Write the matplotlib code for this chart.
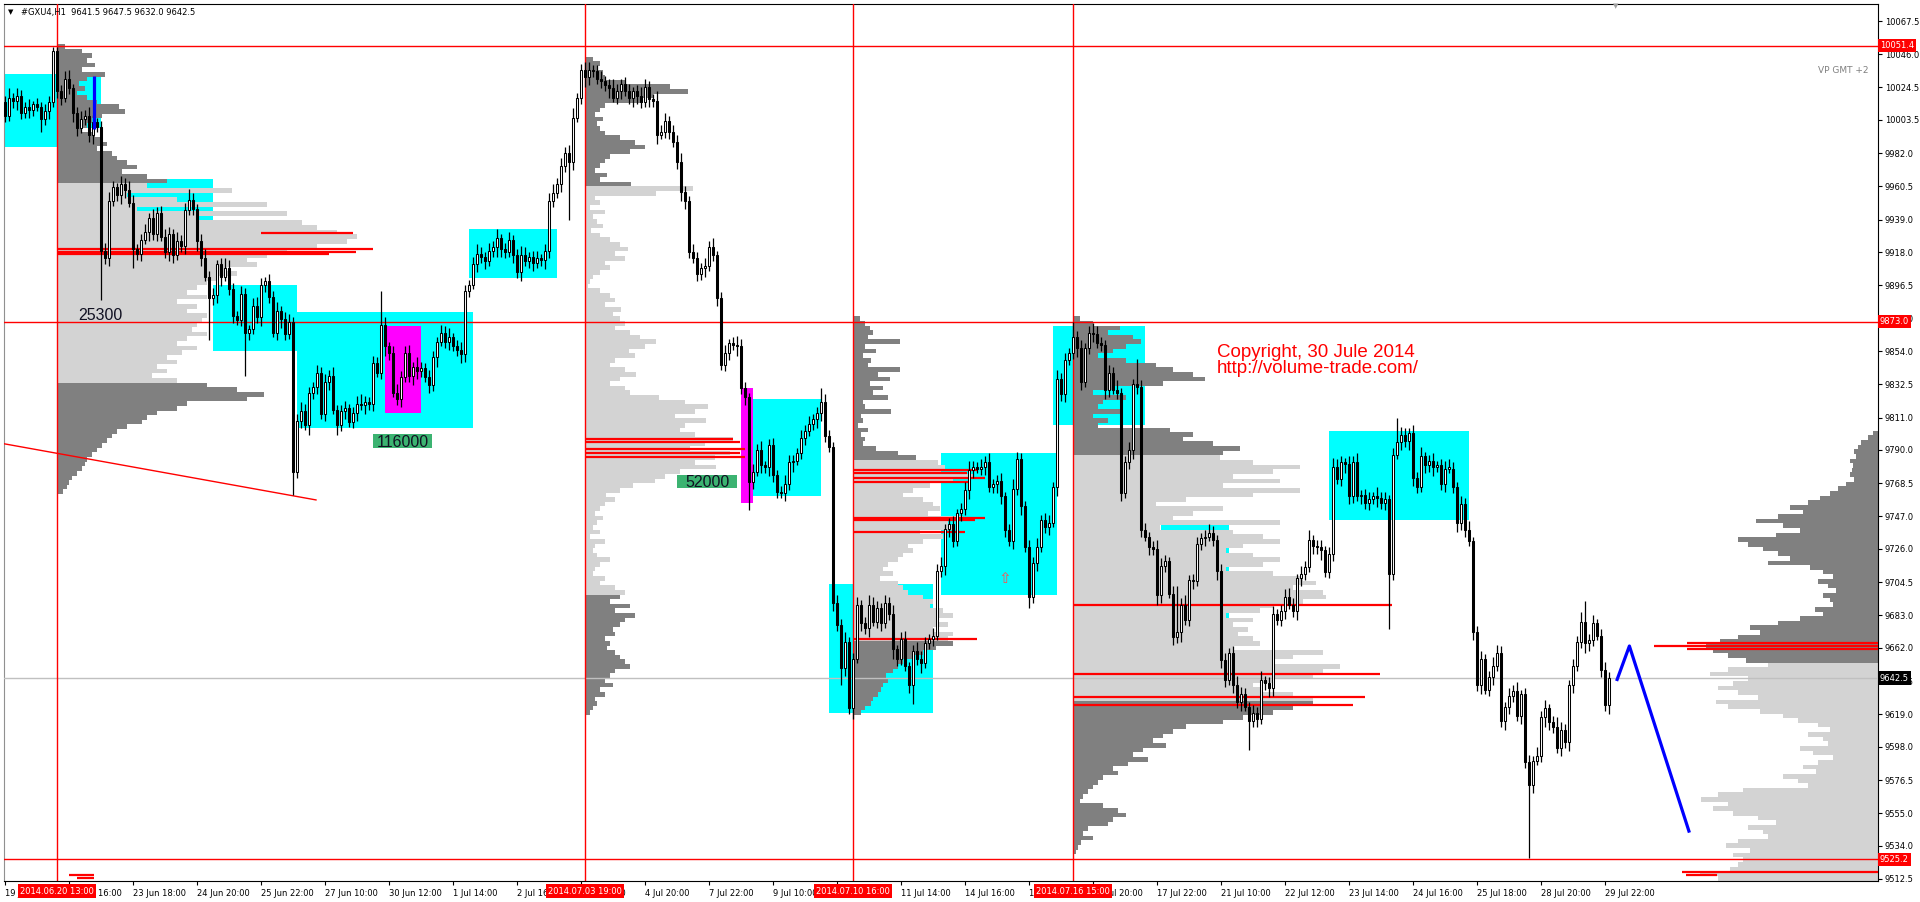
import numpy as np
import matplotlib.pyplot as plt
from matplotlib.patches import Rectangle
from matplotlib.transforms import blended_transform_factory

plt.rcParams['font.family'] = ['DejaVu Sans']

# ---------------- price bars (#GXU4, H1) ----------------
# open of each bar = close of the previous bar
first_open = 10015.0
closes = [
    10006, 10018, 10016, 10019, 10008, 10012, 10010, 10014, 10012, 10004, 10009, 10015, 10048, 10022, 10018, 10030, 10024, 10008, 9998, 10004,
    10006, 9994, 10002, 9999, 9919, 9914, 9951, 9960, 9955, 9962, 9958, 9950, 9920, 9917, 9926, 9931, 9940, 9930, 9943, 9928,
    9918, 9930, 9916, 9925, 9922, 9945, 9952, 9946, 9925, 9914, 9902, 9888, 9890, 9910, 9902, 9908, 9894, 9877, 9874, 9891,
    9866, 9868, 9883, 9876, 9897, 9899, 9889, 9866, 9880, 9875, 9865, 9873, 9776, 9809, 9815, 9806, 9827, 9831, 9840, 9813,
    9834, 9838, 9816, 9806, 9815, 9817, 9808, 9814, 9820, 9819, 9821, 9820, 9846, 9840, 9871, 9857, 9853, 9827, 9823, 9837,
    9853, 9838, 9844, 9841, 9843, 9837, 9832, 9850, 9860, 9866, 9860, 9863, 9857, 9855, 9852, 9893, 9897, 9910, 9917, 9915,
    9912, 9919, 9921, 9927, 9920, 9918, 9926, 9916, 9905, 9916, 9912, 9915, 9911, 9914, 9913, 9919, 9951, 9956, 9962, 9974,
    9982, 9976, 10005, 10018, 10036, 10031, 10036, 10035, 10030, 10029, 10026, 10024, 10018, 10022, 10027, 10022, 10018, 10022, 10019, 10015,
    10025, 10017, 10016, 9994, 9996, 10003, 9996, 9989, 9976, 9957, 9951, 9918, 9914, 9904, 9908, 9909, 9921, 9916, 9888, 9845,
    9853, 9859, 9858, 9857, 9830, 9824, 9769, 9776, 9790, 9780, 9779, 9793, 9774, 9763, 9762, 9768, 9782, 9783, 9788, 9798,
    9802, 9807, 9810, 9814, 9821, 9799, 9792, 9691, 9677, 9649, 9666, 9623, 9655, 9690, 9678, 9675, 9690, 9679, 9688, 9678,
    9691, 9684, 9661, 9655, 9668, 9650, 9638, 9660, 9655, 9652, 9665, 9668, 9670, 9712, 9715, 9739, 9742, 9731, 9749, 9752,
    9764, 9777, 9779, 9778, 9779, 9782, 9766, 9768, 9770, 9760, 9738, 9731, 9765, 9784, 9754, 9727, 9695, 9717, 9727, 9745,
    9740, 9743, 9766, 9836, 9826, 9848, 9853, 9863, 9856, 9834, 9856, 9866, 9865, 9859, 9858, 9829, 9840, 9829, 9827, 9762,
    9782, 9790, 9833, 9831, 9738, 9734, 9727, 9726, 9696, 9715, 9718, 9697, 9669, 9672, 9690, 9680, 9706, 9705, 9729, 9733,
    9734, 9736, 9732, 9712, 9654, 9641, 9659, 9638, 9627, 9632, 9624, 9615, 9620, 9616, 9641, 9639, 9636, 9684, 9680, 9686,
    9695, 9690, 9686, 9707, 9710, 9714, 9732, 9728, 9727, 9725, 9711, 9723, 9779, 9771, 9782, 9781, 9760, 9782, 9760, 9761,
    9756, 9758, 9760, 9759, 9756, 9758, 9710, 9787, 9795, 9800, 9796, 9801, 9772, 9766, 9786, 9780, 9783, 9779, 9780, 9768,
    9778, 9778, 9766, 9743, 9755, 9738, 9731, 9672, 9638, 9655, 9635, 9643, 9650, 9659, 9615, 9624, 9631, 9634, 9618, 9632,
    9588, 9573, 9589, 9592, 9617, 9623, 9614, 9611, 9597, 9609, 9601, 9638, 9650, 9666, 9679, 9665, 9667, 9678, 9670, 9648,
    9625, 9642.5,
]
# upper / lower shadow length in points
up_wick = [
    4, 6, 3, 5, 4, 3, 5, 2, 4, 3, 5, 4, 3, 3, 4, 5, 6, 3, 4, 5,
    4, 6, 5, 3, 4, 5, 6, 4, 3, 5, 4, 6, 5, 3, 4, 5, 3, 6, 4, 5,
    5, 4, 3, 6, 4, 5, 7, 4, 3, 5, 6, 4, 5, 3, 4, 6, 5, 4, 3, 5,
    4, 3, 5, 6, 4, 3, 5, 4, 6, 3, 4, 5, 3, 4, 6, 5, 4, 3, 5, 4,
    5, 4, 6, 3, 4, 5, 3, 4, 5, 6, 4, 3, 5, 4, 22, 5, 3, 4, 6, 4,
    4, 5, 3, 6, 4, 3, 5, 4, 3, 5, 4, 6, 3, 4, 5, 4, 3, 5, 6, 4,
    3, 5, 4, 6, 3, 4, 5, 3, 4, 6, 5, 3, 4, 5, 3, 4, 5, 6, 4, 5,
    4, 5, 6, 3, 4, 5, 5, 3, 4, 5, 3, 4, 6, 5, 3, 4, 5, 3, 4, 6,
    5, 4, 3, 6, 4, 5, 3, 4, 5, 6, 4, 3, 5, 4, 3, 5, 4, 6, 3, 4,
    5, 3, 4, 6, 5, 4, 3, 5, 4, 6, 3, 4, 5, 3, 4, 6, 5, 4, 3, 5,
    4, 5, 3, 4, 9, 5, 4, 3, 5, 4, 6, 3, 4, 5, 3, 4, 6, 5, 4, 3,
    5, 4, 6, 3, 4, 5, 3, 4, 6, 5, 4, 3, 5, 4, 6, 3, 4, 5, 3, 4,
    5, 6, 4, 3, 5, 4, 6, 3, 4, 5, 3, 4, 6, 5, 4, 3, 5, 4, 6, 3,
    4, 5, 3, 6, 4, 5, 3, 10, 4, 5, 3, 4, 6, 5, 4, 3, 5, 4, 6, 3,
    4, 5, 3, 16, 4, 5, 3, 4, 6, 5, 4, 3, 5, 30, 4, 6, 3, 4, 5, 3,
    4, 6, 5, 3, 4, 5, 3, 4, 6, 5, 4, 3, 5, 4, 6, 3, 4, 5, 3, 4,
    5, 6, 4, 3, 5, 4, 6, 3, 4, 5, 3, 4, 6, 5, 4, 3, 5, 4, 6, 3,
    4, 5, 3, 6, 4, 5, 3, 4, 16, 5, 4, 3, 5, 4, 6, 3, 4, 5, 3, 4,
    5, 6, 4, 3, 5, 4, 6, 3, 4, 5, 3, 4, 6, 5, 4, 3, 5, 4, 6, 3,
    4, 5, 3, 6, 4, 5, 3, 4, 6, 5, 4, 3, 5, 4, 6, 13, 4, 5, 3, 4,
    5, 4,
]
dn_wick = [
    4, 3, 5, 6, 4, 3, 5, 4, 3, 8, 4, 5, 3, 4, 5, 3, 4, 6, 5, 3,
    4, 5, 6, 3, 32, 4, 5, 3, 4, 6, 5, 3, 12, 4, 5, 3, 6, 4, 5, 3,
    4, 6, 5, 3, 4, 5, 3, 4, 6, 5, 3, 27, 4, 5, 6, 3, 4, 5, 3, 4,
    28, 5, 3, 4, 6, 5, 4, 3, 5, 6, 4, 3, 15, 4, 5, 3, 6, 4, 5, 3,
    4, 5, 3, 6, 4, 5, 3, 4, 5, 3, 6, 4, 5, 3, 4, 6, 5, 3, 4, 5,
    3, 4, 6, 5, 4, 3, 5, 4, 6, 3, 4, 5, 3, 4, 6, 5, 4, 3, 5, 4,
    5, 3, 4, 6, 5, 4, 3, 5, 4, 6, 3, 4, 5, 3, 4, 6, 5, 4, 3, 5,
    4, 37, 5, 3, 4, 6, 5, 4, 3, 5, 4, 6, 3, 4, 5, 3, 4, 6, 5, 4,
    3, 5, 4, 6, 3, 4, 5, 3, 4, 6, 5, 4, 3, 5, 4, 6, 3, 4, 5, 3,
    4, 5, 3, 6, 4, 5, 18, 4, 3, 5, 4, 6, 5, 4, 3, 5, 4, 6, 3, 4,
    5, 3, 4, 6, 5, 4, 3, 5, 4, 11, 5, 4, 7, 3, 5, 4, 6, 3, 4, 5,
    3, 4, 6, 5, 4, 3, 5, 12, 4, 6, 3, 4, 5, 3, 4, 6, 5, 4, 3, 5,
    4, 6, 5, 3, 4, 5, 3, 4, 6, 5, 4, 3, 5, 4, 6, 3, 7, 4, 5, 3,
    4, 5, 3, 6, 4, 5, 3, 4, 6, 5, 3, 4, 5, 3, 4, 6, 5, 3, 4, 5,
    3, 4, 6, 5, 4, 3, 5, 4, 6, 5, 4, 3, 5, 4, 6, 3, 4, 5, 3, 4,
    5, 3, 4, 6, 5, 4, 3, 5, 4, 6, 3, 19, 4, 5, 3, 4, 6, 5, 3, 4,
    5, 3, 4, 6, 5, 4, 3, 5, 4, 6, 3, 4, 5, 3, 4, 6, 5, 4, 3, 5,
    4, 5, 3, 6, 4, 5, 36, 4, 3, 5, 4, 6, 5, 4, 3, 5, 4, 6, 3, 4,
    5, 3, 4, 6, 5, 4, 3, 5, 4, 6, 3, 4, 5, 3, 4, 6, 5, 4, 3, 5,
    4, 47, 5, 3, 4, 6, 5, 4, 3, 5, 4, 6, 5, 3, 4, 6, 5, 4, 3, 5,
    4, 6,
]

# ---------------- axes labels ----------------
price_ticks = [10067.5, 10046.0, 10024.5, 10003.5, 9982.0, 9960.5, 9939.0, 9918.0, 9896.5,
               9875.0, 9854.0, 9832.5, 9811.0, 9790.0, 9768.5, 9747.0, 9726.0, 9704.5,
               9683.0, 9662.0, 9640.5, 9619.0, 9598.0, 9576.5, 9555.0, 9534.0, 9512.5]
time_labels = ['19 Jun 14:00', '20 Jun 16:00', '23 Jun 18:00', '24 Jun 20:00', '25 Jun 22:00',
               '27 Jun 10:00', '30 Jun 12:00', '1 Jul 14:00', '2 Jul 16:00', '3 Jul 18:00',
               '4 Jul 20:00', '7 Jul 22:00', '9 Jul 10:00', '10 Jul 12:00', '11 Jul 14:00',
               '14 Jul 16:00', '15 Jul 18:00', '16 Jul 20:00', '17 Jul 22:00', '21 Jul 10:00',
               '22 Jul 12:00', '23 Jul 14:00', '24 Jul 16:00', '25 Jul 18:00', '28 Jul 20:00',
               '29 Jul 22:00']
bars_per_label = 16

marker_bars = [13, 145, 212, 267]
marker_dates = ['2014.06.20 13:00', '2014.07.03 19:00', '2014.07.10 16:00', '2014.07.16 15:00']
level_prices = [10051.4, 9873.0, 9525.2]
last_price = 9642.5

# ---------------- rectangles (bar from, bar to, price low, price high) ----------------
cyan_boxes = [(-1, 13, 9986, 10033), (18, 24, 9998, 10032), (28, 52, 9937, 9965),
              (52, 73, 9854, 9897), (73, 117, 9804, 9879), (116, 138, 9901, 9933),
              (187, 204, 9760, 9823), (206, 232, 9620, 9703), (234, 263, 9696, 9788),
              (262, 285, 9806, 9870), (289, 306, 9665, 9743), (331, 366, 9745, 9802)]
magenta_boxes = [(95, 104, 9814, 9870), (184, 187, 9756, 9830)]

# ---------------- volume profiles (3-point rows, top row first) ----------------
vp_step = 3.0
vp1_vol = [8, 25, 35, 30, 38, 25, 48, 30, 22, 28,
           20, 30, 40, 62, 68, 45, 35, 30, 25, 38,
           45, 50, 40, 55, 60, 70, 80, 65, 90, 110,
           90, 175, 70, 120, 210, 80, 230, 140, 245, 260,
           280, 300, 290, 260, 230, 210, 190, 200, 170, 180,
           160, 150, 140, 130, 150, 120, 140, 130, 150, 145,
           140, 135, 150, 130, 120, 140, 125, 110, 120, 100,
           110, 95, 120, 150, 180, 207, 190, 130, 120, 100,
           90, 85, 70, 60, 55, 50, 45, 40, 35, 30,
           28, 25, 20, 15, 12, 10, 6]
vp2_vol = [8, 15, 12, 18, 20, 40, 85, 103, 68, 58,
           20, 15, 10, 18, 12, 15, 20, 35, 50, 60,
           45, 25, 20, 15, 10, 22, 15, 46, 108, 71,
           10, 15, 5, 20, 8, 12, 18, 6, 15, 25,
           35, 43, 30, 40, 20, 25, 15, 8, 5, 3,
           15, 25, 30, 20, 36, 28, 35, 40, 30, 45,
           55, 71, 60, 44, 50, 30, 25, 40, 51, 35,
           25, 40, 45, 74, 100, 123, 110, 90, 121, 100,
           95, 110, 148, 120, 105, 145, 130, 110, 131, 95,
           80, 70, 48, 35, 21, 30, 20, 15, 10, 18,
           12, 8, 15, 5, 20, 10, 8, 12, 25, 15,
           10, 8, 20, 15, 30, 40, 35, 25, 45, 30,
           50, 40, 35, 28, 30, 20, 25, 22, 30, 35,
           40, 45, 30, 25, 20, 28, 15, 20, 10, 12, 8, 5]
vp3_vol = [7, 12, 17, 20, 15, 47, 12, 23, 10, 18,
           15, 47, 25, 37, 17, 30, 20, 35, 10, 12,
           38, 8, 10, 5, 15, 8, 12, 10, 23, 45,
           63, 85, 92, 88, 120, 100, 77, 60, 50, 70,
           80, 87, 75, 110, 95, 100, 67, 90, 70, 55,
           60, 50, 45, 35, 30, 40, 27, 45, 50, 55,
           70, 80, 77, 90, 100, 85, 95, 80, 100, 95,
           100, 83, 70, 60, 50, 45, 40, 33, 35, 30,
           28, 25, 20, 18, 12, 8]
vp4_vol = [7, 20, 47, 35, 60, 68, 53, 40, 25, 53,
           83, 100, 120, 132, 90, 40, 20, 53, 30, 25,
           47, 20, 35, 25, 97, 120, 110, 140, 167, 150,
           147, 180, 227, 200, 160, 207, 150, 227, 180, 113,
           83, 150, 120, 100, 207, 87, 160, 190, 207, 170,
           153, 180, 207, 190, 153, 200, 230, 243, 220, 250,
           253, 230, 200, 187, 153, 180, 160, 175, 165, 180,
           187, 160, 250, 220, 200, 267, 250, 240, 200, 180,
           190, 220, 240, 240, 220, 200, 170, 150, 113, 100,
           90, 80, 93, 70, 60, 75, 55, 40, 45, 30,
           25, 20, 15, 10, 7, 30, 45, 53, 40, 35,
           15, 10, 20, 8, 5, 3]
vp_session_vols = [vp1_vol, vp2_vol, vp3_vol, vp4_vol]
vp_session_anchor = [13, 145, 212, 267]
vp_session_top = [10051, 10043, 9875, 9875]
vp_session_va = [(9833, 9962), (9697, 9960), (9667, 9784), (9627, 9785)]

# whole-range profile drawn from the right edge
vpr_vol = [5, 10, 17, 20, 24, 22, 28, 25, 26, 28,
           24, 32, 40, 48, 58, 70, 88, 75, 100, 122,
           95, 78, 102, 140, 130, 115, 100, 88, 110, 68,
           55, 45, 60, 50, 42, 55, 48, 45, 63, 55,
           78, 100, 128, 118, 140, 158, 172, 165, 150, 132,
           110, 150, 168, 130, 145, 160, 140, 120, 162, 150,
           118, 95, 80, 60, 48, 70, 55, 50, 78, 65,
           45, 60, 75, 62, 95, 80, 70, 135, 160, 177,
           150, 165, 145, 120, 102, 130, 115, 110, 140, 152,
           128, 145, 135, 140, 148, 178, 160]
vpr_top = 9801
vpr_va = (9000, 9652)

# POC / max-volume lines: (price, bar from, bar to)
poc_lines = [(9930.4, 64, 87), (9920.0, 13, 92), (9918.0, 13, 87.75), (9916.5, 13, 81),
             (9797.0, 145, 182), (9795.0, 145, 183.75), (9790.5, 145, 185), (9788.0, 145, 183.75), (9785.5, 145, 185),
             (9777.0, 212, 243), (9775.0, 212, 240.5), (9772.0, 212, 245), (9769.0, 212, 240.75),
             (9746.0, 212, 245), (9744.5, 212, 242.5), (9737.0, 212, 240), (9667.5, 212, 243),
             (9689.7, 267, 346.75), (9645.0, 267, 343.75), (9630.0, 267, 340), (9625.0, 267, 337),
             (9665.0, 420.5, 468.25), (9663.0, 412.25, 468.25), (9661.0, 420.5, 468.25),
             (9517.0, 419.25, 468.25), (9515.0, 420.25, 428),
             (9515.0, 16, 22.25), (9513.0, 18, 22.25)]

# drawn objects
blue_paths = [([22.25, 22.25], [10032, 9997.5]),
              ([402.9, 406.1, 421.1], [9640.6, 9663.2, 9542.5])]
trend_line = ([-1.25, 77.75], [9794.5, 9757.7])
volume_tags = [('116000', 92, 106.75, 9791.3, 9800.4),
               ('52000', 168, 183, 9765.4, 9773.8)]

# ---------------- figure ----------------
fig = plt.figure(figsize=(19.2, 9.02), dpi=100)
fig.patch.set_facecolor('white')
ax = fig.add_axes([4 / 1920, 21 / 902, 1874 / 1920, 877 / 902])
ax.set_xlim(-0.25, 468.25)
ax.set_ylim(9511.2, 10078.5)
ax.set_facecolor('white')

vol_scale = 0.25  # profile units -> bars

for x0, x1, p0, p1 in cyan_boxes:
    ax.add_patch(Rectangle((x0, p0), x1 - x0, p1 - p0, fc='#00ffff', ec='none', zorder=1))
for x0, x1, p0, p1 in magenta_boxes:
    ax.add_patch(Rectangle((x0, p0), x1 - x0, p1 - p0, fc='#ff00ff', ec='none', zorder=1.2))


def draw_profile(vols, anchor, top, va, to_left=False):
    w = np.array(vols, float) * vol_scale
    prices = top - vp_step * np.arange(len(w))
    cols = np.where((prices >= va[0]) & (prices <= va[1]), '#d3d3d3', '#808080')
    left = anchor - w if to_left else np.full(len(w), float(anchor))
    ax.barh(prices, w, left=left, height=vp_step, color=cols, linewidth=0, zorder=2)


for vols, anc, top, va in zip(vp_session_vols, vp_session_anchor, vp_session_top, vp_session_va):
    draw_profile(vols, anc, top, va)
draw_profile(vpr_vol, 468.25, vpr_top, vpr_va, to_left=True)

for p, x0, x1 in poc_lines:
    ax.plot([x0, x1], [p, p], color='red', lw=1.6, solid_capstyle='butt', zorder=3)

# horizontal / vertical markers
for p in level_prices:
    ax.axhline(p, color='red', lw=1, zorder=3.5)
ax.axhline(last_price, color='#c0c0c0', lw=1, zorder=3.5)
for b in marker_bars:
    ax.axvline(b, color='red', lw=1, zorder=3.5)
ax.plot(*trend_line, color='red', lw=1, zorder=3.5)

# candles
c = np.array(closes, float)
o = np.concatenate([[first_open], c[:-1]])
xs = np.arange(len(c))
hi = np.maximum(o, c) + np.array(up_wick)
lo = np.minimum(o, c) - np.array(dn_wick)
ax.vlines(xs, lo, hi, color='black', lw=0.9, zorder=6)
bull = c >= o
ax.bar(xs, np.maximum(np.abs(c - o), 0.7), bottom=np.minimum(o, c), width=0.55,
       color=np.where(bull, 'white', 'black'), edgecolor='black', linewidth=0.75, zorder=7)

for bx, by in blue_paths:
    ax.plot(bx, by, color='#0000ff', lw=2.3, zorder=8, solid_capstyle='butt')

# volume tags
for txt, x0, x1, p0, p1 in volume_tags:
    ax.add_patch(Rectangle((x0, p0), x1 - x0, p1 - p0, fc='#3cb371', ec='none', zorder=8))
    ax.text((x0 + x1) / 2, p0 + 0.5, txt, ha='center', va='baseline', fontsize=11.5,
            family='Liberation Sans', color='#111122', zorder=9)
ax.text(23.9, 9874, '25300', ha='center', va='baseline', fontsize=11.5,
        family='Liberation Sans', color='#111122', zorder=9)
ax.text(250, 9707, '\u21e7', ha='center', va='center', fontsize=11, color='#ff5050', zorder=9)

ax.text(303, 9850.4, 'Copyright, 30 Jule 2014', ha='left', va='baseline', fontsize=13.5,
        family='Liberation Sans', color='red', zorder=9)
ax.text(303, 9839.6, 'http://volume-trade.com/', ha='left', va='baseline', fontsize=13.5,
        family='Liberation Sans', color='red', zorder=9)
ax.text(466, 10035.2, 'VP GMT +2', ha='right', va='center', fontsize=6.5, color='#808080', zorder=9)

# header
ax.text(4 / 1874, 1 - 8 / 877, '\u25bc', transform=ax.transAxes, ha='left', va='center',
        fontsize=5, color='black', zorder=9)
ax.text(17 / 1874, 1 - 8 / 877, '#GXU4,H1  9641.5 9647.5 9632.0 9642.5', transform=ax.transAxes,
        ha='left', va='center', fontsize=6, color='black', zorder=9)
ax.text(402.75, 1 - 2 / 877, '\u25bc', transform=blended_transform_factory(ax.transData, ax.transAxes),
        ha='center', va='center', fontsize=5, color='#a0a0a0', zorder=9)

# axes styling
for side in ['top', 'right', 'bottom']:
    ax.spines[side].set_color('black')
    ax.spines[side].set_linewidth(0.8)
ax.spines['left'].set_color('#909090')

ax.yaxis.tick_right()
ax.set_yticks(price_ticks)
ax.set_yticklabels([f'{v:.1f}' for v in price_ticks])
ax.tick_params(axis='y', direction='out', length=3, width=0.8, pad=2, labelsize=6, colors='black')

ax.set_xticks(np.arange(len(time_labels)) * bars_per_label)
ax.set_xticklabels(time_labels, ha='left')
ax.tick_params(axis='x', direction='out', length=3, width=0.8, pad=3, labelsize=6, colors='black')

tr_y = blended_transform_factory(ax.transAxes, ax.transData)
for p in level_prices:
    ax.text(1 + 2 / 1874, p, f'{p:.1f}', transform=tr_y, ha='left', va='center', fontsize=6,
            color='white', clip_on=False, zorder=10,
            bbox=dict(boxstyle='square,pad=0.25', fc='red', ec='none'))
ax.text(1 + 2 / 1874, last_price, f'{last_price:.1f}', transform=tr_y, ha='left', va='center',
        fontsize=6, color='white', clip_on=False, zorder=10,
        bbox=dict(boxstyle='square,pad=0.25', fc='black', ec='none'))

tr_x = blended_transform_factory(ax.transData, ax.transAxes)
for b, d in zip(marker_bars, marker_dates):
    ax.text(b, -10 / 877, d, transform=tr_x, ha='center', va='center', fontsize=6,
            color='white', clip_on=False, zorder=10,
            bbox=dict(boxstyle='square,pad=0.25', fc='red', ec='none'))

fig.savefig('out.png', dpi=100)
